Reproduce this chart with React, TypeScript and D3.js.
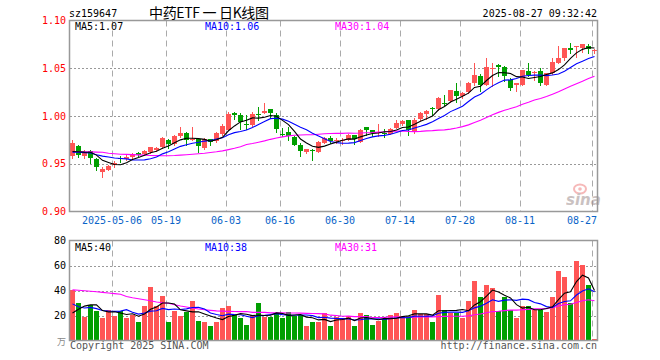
import React, { useEffect, useRef } from 'react';
import * as d3 from 'd3';

// trading days shown (2025)
const dates = [
  '04-22', '04-23', '04-24', '04-25', '04-28', '04-29', '04-30',
  '05-06', '05-07', '05-08', '05-09', '05-12', '05-13', '05-14', '05-15', '05-16',
  '05-19', '05-20', '05-21', '05-22', '05-23', '05-26', '05-27', '05-28', '05-29', '05-30',
  '06-03', '06-04', '06-05', '06-06', '06-09', '06-10', '06-11', '06-12', '06-13',
  '06-16', '06-17', '06-18', '06-19', '06-20', '06-23', '06-24', '06-25', '06-26', '06-27', '06-30',
  '07-01', '07-02', '07-03', '07-04', '07-07', '07-08', '07-09', '07-10', '07-11',
  '07-14', '07-15', '07-16', '07-17', '07-18', '07-21', '07-22', '07-23', '07-24', '07-25',
  '07-28', '07-29', '07-30', '07-31', '08-01', '08-04', '08-05', '08-06', '08-07', '08-08',
  '08-11', '08-12', '08-13', '08-14', '08-15', '08-18', '08-19', '08-20', '08-21', '08-22',
  '08-25', '08-26', '08-27',
];

const opens = [
  0.9578, 0.969, 0.9578, 0.9635, 0.955, 0.941, 0.9439, 0.949, 0.9555, 0.955,
  0.9571, 0.961, 0.9606, 0.962, 0.964, 0.9677, 0.975, 0.9705, 0.9792, 0.9822,
  0.9757, 0.9755, 0.9662, 0.9755, 0.9735, 0.981, 0.9855, 1.003, 1.0012, 0.9912,
  0.9905, 1.0022, 1.0036, 1.007, 1.0015, 0.9815, 0.983, 0.9785, 0.970, 0.9618,
  0.9648, 0.9628, 0.9722, 0.9767, 0.9737, 0.9738, 0.9747, 0.980, 0.973, 0.9885,
  0.985, 0.9828, 0.9825, 0.9816, 0.9878, 0.992, 0.9955, 0.983, 0.9966, 1.0017,
  1.0088, 1.007, 1.0135, 1.0155, 1.0265, 1.0207, 1.0248, 1.0345, 1.0414, 1.0328,
  1.0498, 1.0534, 1.051, 1.0378, 1.0326, 1.0326, 1.0476, 1.0448, 1.0476, 1.0326,
  1.0448, 1.0552, 1.0604, 1.0712, 1.072, 1.0708, 1.0733, 1.0688,
];
const highs = [
  0.9745, 0.970, 0.9645, 0.9645, 0.956, 0.9465, 0.949, 0.9525, 0.9585, 0.9592,
  0.961, 0.9618, 0.964, 0.968, 0.968, 0.978, 0.976, 0.980, 0.9888, 0.983,
  0.9888, 0.977, 0.9765, 0.9762, 0.9832, 0.992, 1.0038, 1.0038, 1.003, 1.001,
  1.004, 1.0095, 1.0135, 1.0075, 1.003, 0.987, 0.988, 0.9795, 0.9715, 0.9655,
  0.9652, 0.9735, 0.9785, 0.979, 0.977, 0.9765, 0.981, 0.9805, 0.9868, 0.9888,
  0.9857, 0.992, 0.9868, 0.9875, 0.9962, 0.9962, 0.9958, 0.9975, 1.004, 1.0068,
  1.0092, 1.0195, 1.0225, 1.0275, 1.0345, 1.0255, 1.0355, 1.056, 1.0445, 1.0608,
  1.0555, 1.0545, 1.052, 1.0396, 1.0346, 1.0485, 1.055, 1.0467, 1.050, 1.0452,
  1.0605, 1.0733, 1.0712, 1.0767, 1.0735, 1.0756, 1.0756, 1.0697,
];
const lows = [
  0.956, 0.9575, 0.9555, 0.951, 0.943, 0.9362, 0.9435, 0.9465, 0.9515, 0.954,
  0.9565, 0.958, 0.9595, 0.9615, 0.963, 0.967, 0.9665, 0.9695, 0.978, 0.970,
  0.9745, 0.9625, 0.9655, 0.9695, 0.9725, 0.980, 0.985, 0.997, 0.9865, 0.986,
  0.990, 0.996, 1.003, 0.9993, 0.9837, 0.979, 0.975, 0.9695, 0.9576, 0.9612,
  0.954, 0.9625, 0.972, 0.9715, 0.9715, 0.9705, 0.9745, 0.971, 0.9725, 0.980,
  0.979, 0.979, 0.978, 0.981, 0.9875, 0.9905, 0.980, 0.9825, 0.996, 0.9966,
  1.0015, 1.0065, 1.0115, 1.015, 1.015, 1.019, 1.0245, 1.032, 1.026, 1.032,
  1.031, 1.0415, 1.0365, 1.0274, 1.0257, 1.032, 1.042, 1.038, 1.0328, 1.032,
  1.0445, 1.055, 1.059, 1.0656, 1.062, 1.067, 1.066, 1.066,
];
const closes = [
  0.9713, 0.9592, 0.9622, 0.956, 0.9465, 0.9442, 0.948, 0.951, 0.9548, 0.9575,
  0.9605, 0.9589, 0.963, 0.9672, 0.966, 0.9765, 0.9708, 0.9792, 0.9825, 0.9748,
  0.9764, 0.9685, 0.9755, 0.973, 0.9822, 0.9895, 1.0025, 1.0008, 0.9942, 0.9905,
  1.002, 1.0015, 1.0053, 1.0036, 0.986, 0.9808, 0.9795, 0.970, 0.963, 0.9652,
  0.9642, 0.9732, 0.9767, 0.974, 0.975, 0.9745, 0.980, 0.9755, 0.9858, 0.985,
  0.9818, 0.9832, 0.982, 0.9868, 0.9927, 0.9948, 0.9858, 0.9962, 1.0035, 1.0055,
  1.0084, 1.019, 1.013, 1.027, 1.0207, 1.024, 1.035, 1.043, 1.0328, 1.051,
  1.0502, 1.051, 1.0414, 1.0292, 1.0344, 1.0483, 1.043, 1.0465, 1.0344, 1.0448,
  1.057, 1.0604, 1.0708, 1.069, 1.0733, 1.0753, 1.0698, 1.069,
];
// volume, 万
const volumes = [
  40.8, 30.4, 18.7, 28.8, 24, 17.9, 24.8, 19.5, 24, 17.9,
  20.5, 15.2, 28, 43.2, 27.5, 36, 15.2, 24, 20, 23.2,
  32, 16, 15.2, 11.5, 15.2, 25.9, 28, 20.5, 17.9, 12.5,
  20.5, 30.4, 18.7, 18.7, 22.1, 17.9, 23.2, 20, 20.5, 12,
  15.2, 14.7, 22.1, 11.5, 18.7, 17.3, 20, 12, 21.9, 20.5,
  12.8, 16, 17.3, 20.5, 22.1, 19.5, 19.5, 24.8, 21.3, 21.3,
  14.7, 36.8, 24.8, 22.1, 22.1, 17.9, 32, 48, 35.2, 44.8,
  41.9, 24, 34.7, 24.8, 17.9, 28, 27.5, 24.8, 24.8, 22.7,
  35.2, 56, 50.7, 29.9, 64, 60.8, 44.8, 0.8,
];

// moving-average values before a full window exists
const ma5Lead = [0.9628, 0.9626, 0.9622, 0.962];
const ma10Lead = [0.962, 0.962, 0.9617, 0.9613, 0.9595, 0.958, 0.957, 0.956, 0.9555];
const ma30Lead = [
  0.9626, 0.9626, 0.9625, 0.9624, 0.9622, 0.962, 0.961, 0.9605, 0.960, 0.9598,
  0.9596, 0.9593, 0.959, 0.9587, 0.9585, 0.9584, 0.9584, 0.9586, 0.959, 0.9595,
  0.960, 0.9605, 0.961, 0.9617, 0.9625, 0.9635, 0.9648, 0.9662, 0.9678,
];
const vma5Lead = [22, 25, 27.5, 28.5];
const vma10Lead = [29.3, 27, 26, 26.5, 25.5, 24, 23.5, 23.3, 23.5];
const vma30Lead = [
  40.5, 40.2, 39.8, 39.4, 39.0, 38.5, 38.0, 37.5, 37.0, 35.2,
  34.2, 33.4, 32.6, 31.8, 30.8, 30.2, 29.8, 28.6, 27.6, 26.8,
  26.0, 25.2, 24.6, 24.1, 23.7, 23.5, 23.3, 23.2, 23.1,
];

const tickDates = ['05-06', '05-19', '06-03', '06-16', '06-30', '07-14', '07-28', '08-11', '08-27'];
const priceTicks = [1.10, 1.05, 1.00, 0.95, 0.90];
const volumeTicks = [80, 60, 40, 20];

const movingAverage = (values: number[], n: number, lead: number[]) =>
  values.map((_, i) => (i < n - 1 ? lead[i] : (d3.mean(values.slice(i - n + 1, i + 1)) as number)));

const App: React.FC = () => {
  const svgRef = useRef<SVGSVGElement>(null);

  useEffect(() => {
    if (!svgRef.current) return;
    const svg = d3.select(svgRef.current);
    svg.selectAll('*').remove();

    const mono = '"DejaVu Sans Mono", monospace';
    const up = '#ff5555';
    const down = '#009f00';
    const left = 70;
    const right = 597;
    const pTop = 20.5;
    const pBottom = 211.5;
    const vTop = 240.5;
    const vBottom = 340.5;

    const x = d3.scaleBand<string>().domain(dates).range([left, right]).paddingInner(1 / 6).paddingOuter(0);
    const bw = x.bandwidth();
    const cx = (i: number) => (x(dates[i]) as number) + bw / 2;
    const y = d3.scaleLinear().domain([0.9, 1.1]).range([pBottom, pTop]);
    const yv = d3.scaleLinear().domain([0, 80]).range([vBottom, vTop]);

    // grid
    const grid = svg.append('g');
    tickDates.forEach(d => {
      const gx = Math.round(x(d) as number) + 0.5;
      [[pTop, pBottom], [vTop, vBottom]].forEach(([a, b]) => {
        grid.append('line')
          .attr('x1', gx).attr('x2', gx).attr('y1', a).attr('y2', b)
          .attr('stroke', '#aaa').attr('stroke-dasharray', '6,4');
      });
    });
    priceTicks.slice(1, -1).forEach(t => {
      const gy = Math.round(y(t)) + 0.5;
      grid.append('line').attr('x1', left).attr('x2', right).attr('y1', gy).attr('y2', gy)
        .attr('stroke', '#999').attr('stroke-dasharray', '2,2');
    });
    volumeTicks.slice(1).forEach(t => {
      const gy = Math.round(yv(t)) + 0.5;
      grid.append('line').attr('x1', left).attr('x2', right).attr('y1', gy).attr('y2', gy)
        .attr('stroke', '#999').attr('stroke-dasharray', '2,2');
    });

    // sina watermark
    const wm = svg.append('g').attr('opacity', 0.55);
    wm.append('ellipse').attr('cx', 580).attr('cy', 189).attr('rx', 6).attr('ry', 4.5)
      .attr('fill', 'none').attr('stroke', '#f08080').attr('stroke-width', 2);
    wm.append('circle').attr('cx', 580).attr('cy', 189).attr('r', 1.8).attr('fill', '#f08080');
    wm.append('text').attr('x', 566).attr('y', 205).text('sina')
      .style('font-family', '"DejaVu Sans", sans-serif').style('font-size', '15px')
      .style('font-weight', 'bold').style('font-style', 'italic').attr('fill', '#a09090');

    // candles
    const candles = svg.append('g');
    dates.forEach((d, i) => {
      const o = opens[i], c = closes[i];
      const col = c >= o ? up : down;
      const wx = Math.round(x(d) as number) + 2.5;
      candles.append('line')
        .attr('x1', wx).attr('x2', wx)
        .attr('y1', Math.round(y(highs[i]))).attr('y2', Math.round(y(lows[i])) + 1)
        .attr('stroke', col);
      const top = Math.round(y(Math.max(o, c)));
      const bot = Math.round(y(Math.min(o, c)));
      candles.append('rect')
        .attr('x', Math.round(x(d) as number)).attr('y', top)
        .attr('width', bw).attr('height', Math.max(1, bot - top))
        .attr('fill', col).attr('shape-rendering', 'crispEdges');
    });

    // volume bars
    svg.append('g').selectAll('rect').data(volumes).enter().append('rect')
      .attr('x', (_, i) => Math.round(x(dates[i]) as number))
      .attr('y', v => Math.round(yv(v)))
      .attr('width', bw)
      .attr('height', v => Math.max(1, Math.round(yv(0)) - Math.round(yv(v))))
      .attr('fill', (_, i) => (closes[i] >= opens[i] ? up : down))
      .attr('shape-rendering', 'crispEdges');

    // moving averages
    const drawLine = (vals: number[], scale: d3.ScaleLinear<number, number>, color: string) => {
      const line = d3.line<number>().x((_, i) => cx(i)).y(v => scale(v));
      svg.append('path').datum(vals).attr('d', line)
        .attr('fill', 'none').attr('stroke', color).attr('stroke-width', 1.1);
    };
    const ma5 = movingAverage(closes, 5, ma5Lead);
    const ma10 = movingAverage(closes, 10, ma10Lead);
    const ma30 = movingAverage(closes, 30, ma30Lead);
    const vma5 = movingAverage(volumes, 5, vma5Lead);
    const vma10 = movingAverage(volumes, 10, vma10Lead);
    const vma30 = movingAverage(volumes, 30, vma30Lead);
    drawLine(ma30, y, '#ff00ff');
    drawLine(ma10, y, '#0000ff');
    drawLine(ma5, y, '#000');
    drawLine(vma30, yv, '#ff00ff');
    drawLine(vma10, yv, '#0000ff');
    drawLine(vma5, yv, '#000');

    // frames
    [[pTop, pBottom], [vTop, vBottom]].forEach(([a, b]) => {
      svg.append('rect').attr('x', left - 0.5).attr('y', a).attr('width', right - left + 1).attr('height', b - a)
        .attr('fill', 'none').attr('stroke', '#999').attr('stroke-width', 1.5);
    });

    const txt = (tx: number, ty: number, s: string, color: string, anchor = 'start', size = 10, family = mono) =>
      svg.append('text').attr('x', tx).attr('y', ty).attr('text-anchor', anchor)
        .attr('fill', color).style('font-family', family).style('font-size', `${size}px`).text(s);

    // axes labels
    priceTicks.forEach(t => txt(66, y(t) + 3.5, t.toFixed(2), '#f00', 'end'));
    volumeTicks.forEach(t => txt(66, yv(t) + 3.5, String(t), '#000', 'end'));
    txt(66, 345, '万', '#888', 'end', 9, '"Noto Sans CJK SC", sans-serif');
    tickDates.forEach((d, i) => {
      const label = i === 0 ? `2025-${d}` : d;
      const w = label.length * 6.02;
      const lx = Math.min(Math.round(x(d) as number), right - w / 2);
      txt(lx, 224, label, '#0a64c8', 'middle');
    });

    // header
    txt(69, 17, 'sz159647', '#000');
    txt(149, 18, '中药ETF\u00a0一\u00a0日K线图', '#000', 'start', 14, '"Noto Sans CJK SC", sans-serif')
      .attr('textLength', 120).attr('lengthAdjust', 'spacing');
    txt(597, 17, '2025-08-27 09:32:42', '#000', 'end');

    const fmt = (v: number) => v.toFixed(2);
    txt(75, 30, `MA5:${fmt(ma5[ma5.length - 1])}`, '#000');
    txt(205, 30, `MA10:${fmt(ma10[ma10.length - 1])}`, '#0000ff');
    txt(335, 30, `MA30:${fmt(ma30[ma30.length - 1])}`, '#ff00ff');
    txt(75, 251, `MA5:${Math.floor(vma5[vma5.length - 1])}`, '#000');
    txt(205, 251, `MA10:${Math.floor(vma10[vma10.length - 1])}`, '#0000ff');
    txt(335, 251, `MA30:${Math.floor(vma30[vma30.length - 1])}`, '#ff00ff');

    // footer
    txt(70, 349, 'Copyright 2025 SINA.COM', '#555');
    txt(597, 349, 'http://finance.sina.com.cn', '#555', 'end');
  }, []);

  return (
    <svg
      ref={svgRef}
      width={660}
      height={360}
      style={{ position: 'absolute', left: 0, top: 0, background: '#fff' }}
    />
  );
};

export default App;
